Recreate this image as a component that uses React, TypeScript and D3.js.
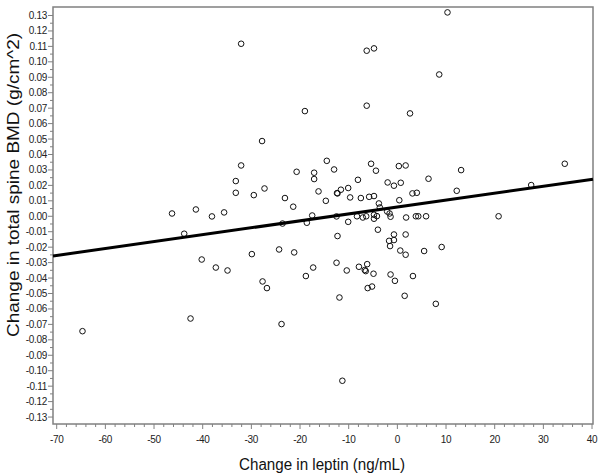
import React from "react";
import * as d3 from "d3";

const leptinChange: number[] = [
  -32.1, -6.3, -4.8, -19.0, -6.3, 2.6, -27.8, -32.1, -14.5, -5.4,
  0.3, 1.7, -20.7, -17.1, -13.0, -4.4, -33.2, -17.1, -8.1, -2.0,
  -0.7, 0.7, 6.4, -33.2, -29.5, -27.3, -16.2, -12.4, -12.3, -11.6,
  -10.1, -23.1, -14.7, -9.7, -7.5, -5.8, -4.8, 0.4, 3.1, 4.0,
  10.3, 8.6, 34.4, 13.1, 12.2, 27.5, -46.3, -41.4, -38.1, -35.6,
  -43.8, -40.2, -37.3, -34.9, -42.5, -64.7, -21.4, -17.5, -23.6, -18.6,
  -12.5, -10.1, -8.3, -12.3, -29.9, -24.3, -21.2, -12.5, -17.3, -10.4,
  -7.9, -18.8, -27.7, -26.8, -11.9, -3.8, -3.6, -7.1, -6.4, -4.8,
  -4.2, -4.8, -2.1, -1.6, -1.4, 1.8, 3.8, 4.3, 5.9, -4.0,
  -0.7, 1.7, -1.7, -0.7, -1.5, 0.6, 1.7, 5.5, 9.1, -6.2,
  -6.7, -6.5, -4.9, -1.4, -0.5, 3.2, -6.1, -5.2, 1.5, 7.9,
  -23.8, -11.3, 20.8,
];

const bmdChange: number[] = [
  0.1117, 0.1072, 0.1087, 0.0681, 0.0716, 0.0666, 0.0487, 0.0329, 0.0359, 0.034,
  0.0325, 0.0329, 0.0288, 0.0282, 0.0303, 0.0295, 0.0228, 0.0241, 0.0236, 0.0219,
  0.0198, 0.0217, 0.0243, 0.0152, 0.0137, 0.018, 0.0161, 0.015, 0.0148, 0.0172,
  0.0183, 0.0118, 0.01, 0.0122, 0.0118, 0.0126, 0.0131, 0.0104, 0.0148, 0.0152,
  0.132, 0.0918, 0.034, 0.0299, 0.0165, 0.0202, 0.0018, 0.0044, -0.0001, 0.0025,
  -0.0113, -0.028, -0.0332, -0.0351, -0.0662, -0.0744, 0.0062, 0.0005, -0.0047, -0.0042,
  -0.0001, -0.0036, 0.0, -0.0128, -0.0245, -0.0215, -0.0234, -0.0301, -0.0332, -0.0351,
  -0.0327, -0.0387, -0.0422, -0.0465, -0.0526, 0.0083, 0.0057, -0.0008, 0.0, 0.001,
  0.0001, -0.0016, 0.0031, 0.0018, -0.0003, -0.0008, 0.0, 0.0, 0.0, -0.0087,
  -0.0118, -0.0118, -0.0159, -0.0154, -0.0193, -0.0222, -0.0249, -0.0225, -0.0199, -0.031,
  -0.0348, -0.0355, -0.0372, -0.0377, -0.0418, -0.0387, -0.0465, -0.0455, -0.0515, -0.0567,
  -0.0698, -0.1065, 0.0,
];

const xTicks: number[] = [-70, -60, -50, -40, -30, -20, -10, 0, 10, 20, 30, 40];
const yTickLabels: string[] = [
  "0.13", "0.12", "0.11", "0.10", "0.09", "0.08", "0.07", "0.06", "0.05", "0.04",
  "0.03", "0.02", "0.01", "0.00", "-0.01", "-0.02", "-0.03", "-0.04", "-0.05", "-0.06",
  "-0.07", "-0.08", "-0.09", "-0.10", "-0.11", "-0.12", "-0.13",
];
const fitIntercept = 0.006;
const fitSlope = 0.000448;

const xTitle = "Change in leptin (ng/mL)";
const yTitle = "Change in total spine BMD (g/cm^2)";

export default function App() {
  const left = 53, right = 593, top = 7, bottom = 424;
  const x = d3.scaleLinear().domain([-70.76, 40.2]).range([left, right]);
  const y = d3.scaleLinear().domain([-0.1345, 0.1355]).range([bottom, top]);

  const xMinor = d3.range(-70, 40.01, 2);
  const yMinor = d3.range(-0.13, 0.1301, 0.005);
  const points = leptinChange.map((v, i) => [v, bmdChange[i]] as [number, number]);
  const [x0, x1] = x.domain();
  const fitLine = d3.line<number>()
    .x((d) => x(d))
    .y((d) => y(fitIntercept + fitSlope * d));

  const font = "'Liberation Sans', Arial, sans-serif";
  const axisColor = "#808080";

  return (
    <svg
      width={600}
      height={476}
      style={{ position: "absolute", left: 0, top: 0, background: "#fff" }}
      fontFamily={font}
    >
      <rect x={0} y={0} width={600} height={476} fill="#fff" />
      {/* frame */}
      <rect x={left} y={top} width={right - left} height={bottom - top} fill="none" stroke={axisColor} strokeWidth={1.5} />
      {/* y ticks */}
      {yMinor.map((v, i) => {
        const major = i % 2 === 0;
        return (
          <line key={"ym" + i} x1={left} x2={left - (major ? 5 : 3)} y1={y(v)} y2={y(v)} stroke={axisColor} strokeWidth={1} />
        );
      })}
      {yTickLabels.map((t) => (
        <text key={"yl" + t} x={47} y={y(+t)} dy="0.35em" textAnchor="end" fontSize={10} fill="#222" letterSpacing={-0.3}>
          {t}
        </text>
      ))}
      {/* x ticks */}
      {xMinor.map((v, i) => {
        const major = i % 5 === 0;
        return (
          <line key={"xm" + i} y1={bottom} y2={bottom + (major ? 5 : 3)} x1={x(v)} x2={x(v)} stroke={axisColor} strokeWidth={1} />
        );
      })}
      {xTicks.map((t) => (
        <text key={"xl" + t} x={x(t)} y={443} textAnchor="middle" fontSize={10} fill="#222" letterSpacing={-0.3}>
          {t}
        </text>
      ))}
      {/* points */}
      {points.map((p, i) => (
        <circle key={"p" + i} cx={x(p[0])} cy={y(p[1])} r={2.8} fill="none" stroke="#111" strokeWidth={1} />
      ))}
      {/* fit line */}
      <path d={fitLine([x0, x1]) || ""} fill="none" stroke="#000" strokeWidth={3} />
      {/* titles */}
      <text x={322} y={470} textAnchor="middle" fontSize={16} fill="#111" textLength={166} lengthAdjust="spacingAndGlyphs">
        {xTitle}
      </text>
      <text
        transform="translate(19,185) rotate(-90)"
        textAnchor="middle"
        fontSize={16}
        fill="#111"
        textLength={304}
        lengthAdjust="spacingAndGlyphs"
      >
        {yTitle}
      </text>
    </svg>
  );
}
